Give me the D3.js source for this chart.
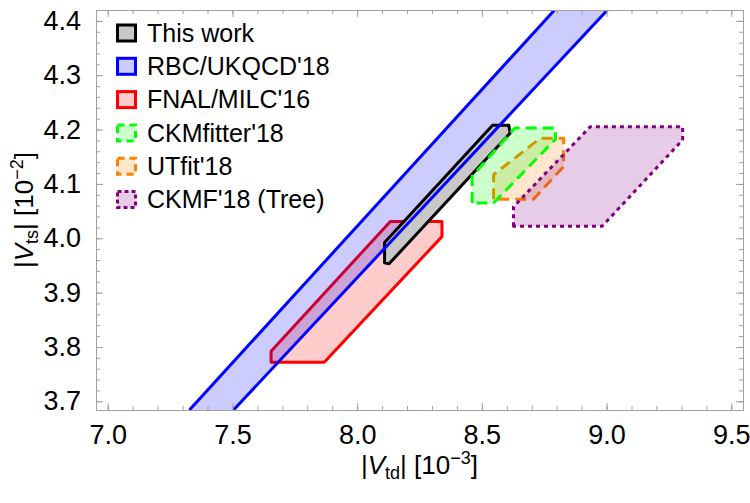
<!doctype html>
<html>
<head>
<meta charset="utf-8">
<title>Vtd vs Vts</title>
<script src="https://d3js.org/d3.v7.min.js"></script>
<style>
  body { margin: 0; background: #fff; }
  text { font-family: "Liberation Sans", Arial, sans-serif; fill: #000; }
</style>
</head>
<body>
<svg></svg>
<script>
var w = 750, h = 503;

// axis ranges and ticks (|Vtd| in 1e-3, |Vts| in 1e-2)
var xDomain = [6.953, 9.547];
var yDomain = [3.684, 4.42];
var xMajor = [7.0, 7.5, 8.0, 8.5, 9.0, 9.5];
var yMajor = [3.7, 3.8, 3.9, 4.0, 4.1, 4.2, 4.3, 4.4];
var xMinor = d3.range(7.0, 9.55, 0.1);
var yMinor = d3.range(3.7, 4.42, 0.02);

// RBC/UKQCD'18 band: |Vtd/Vts| range
var rbcRatio = [0.1989, 0.2037];

// regions, vertices as [Vtd, Vts]
var thisWork = [[8.11, 3.955], [8.11, 3.992], [8.543, 4.208], [8.608, 4.208], [8.613, 4.193], [8.128, 3.953]];
var fnal = [[7.655, 3.772], [7.655, 3.792], [8.133, 4.031], [8.34, 4.031], [8.34, 4.003], [7.868, 3.772]];
var ckmfitter = [[8.461, 4.065], [8.461, 4.114], [8.632, 4.203], [8.795, 4.203], [8.795, 4.182], [8.547, 4.065]];
var utfit = [[8.547, 4.072], [8.547, 4.117], [8.734, 4.184], [8.828, 4.184], [8.828, 4.132], [8.707, 4.072]];
var ckmfTree = [[8.627, 4.022], [8.627, 4.058], [8.934, 4.205], [9.305, 4.205], [9.305, 4.181], [8.982, 4.022]];

var legendNames = ["This work", "RBC/UKQCD'18", "FNAL/MILC'16", "CKMfitter'18", "UTfit'18", "CKMF'18 (Tree)"];

var styles = [
  { stroke: "#000", fill: "#c8c8c8", op: 1, dash: null },
  { stroke: "#0000ff", fill: "#0000ff", op: 0.2, dash: null },
  { stroke: "#ff0000", fill: "#ff0000", op: 0.2, dash: null },
  { stroke: "#00ff00", fill: "#00ff00", op: 0.2, dash: "11,6" },
  { stroke: "#ff8000", fill: "#ff8000", op: 0.2, dash: "11,6" },
  { stroke: "#800080", fill: "#800080", op: 0.2, dash: "4,4" }
];

var pLeft = 96, pRight = 743, pTop = 10, pBottom = 410;

var x = d3.scaleLinear().domain(xDomain).range([pLeft, pRight]);
var y = d3.scaleLinear().domain(yDomain).range([pBottom, pTop]);

var svg = d3.select("svg").attr("width", w).attr("height", h);

svg.append("clipPath").attr("id", "clip")
  .append("rect").attr("x", pLeft).attr("y", pTop)
  .attr("width", pRight - pLeft).attr("height", pBottom - pTop);

var plot = svg.append("g").attr("clip-path", "url(#clip)");

var line = d3.line().x(function(d) { return x(d[0]); }).y(function(d) { return y(d[1]); });

function region(pts, s) {
  plot.append("path")
    .attr("d", line(pts) + "Z")
    .attr("fill", s.fill)
    .attr("fill-opacity", s.op)
    .attr("stroke", s.stroke)
    .attr("stroke-width", 3)
    .attr("stroke-linejoin", "round")
    .attr("stroke-dasharray", s.dash);
}

// band edges: Vtd = 10 * r * Vts
function edge(r) {
  return [[10 * r * yDomain[0], yDomain[0]], [10 * r * yDomain[1], yDomain[1]]];
}
var e0 = edge(rbcRatio[0]), e1 = edge(rbcRatio[1]);

region(fnal, styles[2]);

plot.append("path")
  .attr("d", line([e0[0], e0[1], e1[1], e1[0]]) + "Z")
  .attr("fill", "#0000ff").attr("fill-opacity", 0.2);

region(thisWork, styles[0]);

[e0, e1].forEach(function(e) {
  plot.append("path").attr("d", line(e))
    .attr("fill", "none").attr("stroke", "#0000ff").attr("stroke-width", 3);
});

region(utfit, styles[4]);
region(ckmfitter, styles[3]);
region(ckmfTree, styles[5]);

// frame with inward ticks
var frameColor = "#a0a0a0";
function frameAxis(axisFn, scale, tx, ty, vals, size, labels) {
  var a = axisFn(scale).tickValues(vals).tickSize(size).tickSizeOuter(0);
  if (!labels) a.tickFormat("");
  else a.tickFormat(d3.format(".1f")).tickPadding(-size + 8);
  var g = svg.append("g").attr("transform", "translate(" + tx + "," + ty + ")").call(a);
  g.select(".domain").attr("stroke", frameColor);
  g.selectAll(".tick line").attr("stroke", frameColor);
  g.selectAll(".tick text").attr("font-size", 27).attr("font-family", '"Liberation Sans", Arial, sans-serif').attr("fill", "#000");
  return g;
}
frameAxis(d3.axisBottom, x, 0, pBottom, xMinor, -4, false);
frameAxis(d3.axisBottom, x, 0, pBottom, xMajor, -7, true);
frameAxis(d3.axisTop, x, 0, pTop, xMinor, -4, false);
frameAxis(d3.axisTop, x, 0, pTop, xMajor, -7, false);
frameAxis(d3.axisLeft, y, pLeft, 0, yMinor, -4, false);
frameAxis(d3.axisLeft, y, pLeft, 0, yMajor, -7, true);
frameAxis(d3.axisRight, y, pRight, 0, yMinor, -4, false);
frameAxis(d3.axisRight, y, pRight, 0, yMajor, -7, false);

// axis labels
var xl = svg.append("text").attr("x", (pLeft + pRight) / 2).attr("y", 474)
  .attr("text-anchor", "middle").attr("font-size", 26);
xl.append("tspan").text("|");
xl.append("tspan").attr("font-style", "italic").text("V");
xl.append("tspan").attr("font-size", 18).attr("dy", 5).text("td");
xl.append("tspan").attr("dy", -5).text("| [10");
xl.append("tspan").attr("font-size", 18).attr("dy", -10).text("\u22123");
xl.append("tspan").attr("dy", 10).text("]");

var yl = svg.append("text")
  .attr("transform", "translate(33," + (pTop + pBottom) / 2 + ") rotate(-90)")
  .attr("text-anchor", "middle").attr("font-size", 26);
yl.append("tspan").text("|");
yl.append("tspan").attr("font-style", "italic").text("V");
yl.append("tspan").attr("font-size", 18).attr("dy", 5).text("ts");
yl.append("tspan").attr("dy", -5).text("| [10");
yl.append("tspan").attr("font-size", 18).attr("dy", -10).text("\u22122");
yl.append("tspan").attr("dy", 10).text("]");

// legend
var legend = svg.append("g").attr("transform", "translate(116,33)");
var rows = legend.selectAll("g").data(legendNames).enter().append("g")
  .attr("transform", function(d, i) { return "translate(0," + i * 33.3 + ")"; });
rows.append("rect")
  .attr("x", 1.5).attr("y", -8).attr("width", 18).attr("height", 16)
  .attr("fill", function(d, i) { return styles[i].fill; })
  .attr("fill-opacity", function(d, i) { return i === 0 ? 1 : 0.2; })
  .attr("stroke", function(d, i) { return styles[i].stroke; })
  .attr("stroke-width", 3)
  .attr("stroke-dasharray", function(d, i) { return i >= 3 ? (i === 5 ? "4,3" : "7,5") : null; });
rows.append("text")
  .attr("x", 31).attr("y", 0).attr("dy", "0.35em")
  .attr("font-size", 25)
  .text(function(d) { return d; });
</script>
</body>
</html>
